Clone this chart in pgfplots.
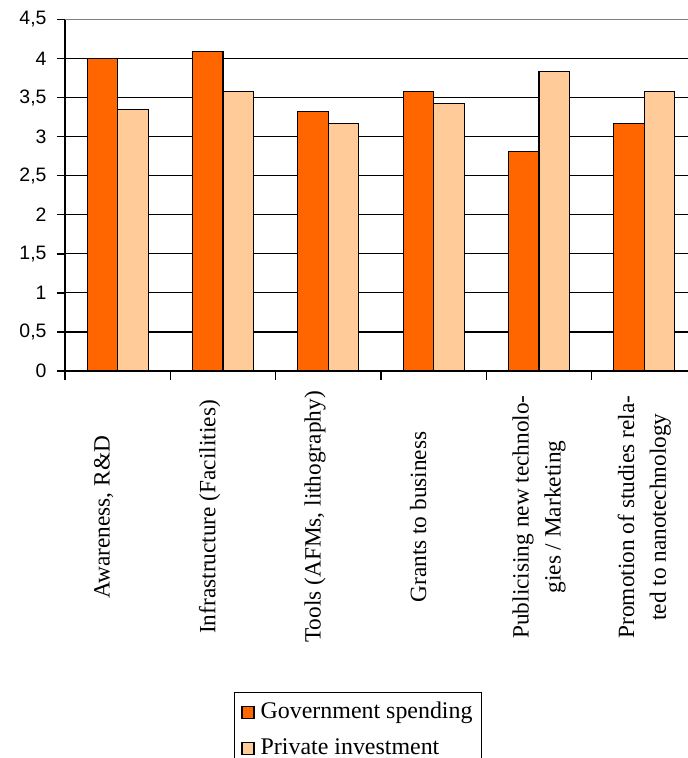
\documentclass[border=0pt]{standalone}
\usepackage{fontspec}
\setmainfont{Liberation Serif}
\setsansfont{Liberation Sans}
\usepackage{pgfplots}
\pgfplotsset{compat=1.18}
\definecolor{gov}{HTML}{FF6600}
\definecolor{priv}{HTML}{FFCC99}
\begin{document}
\begin{tikzpicture}[x=1bp,y=1bp]
\begin{axis}[
  at={(65bp,387bp)}, anchor=south west,
  scale only axis, width=632bp, height=351.5bp,
  xmin=-0.5, xmax=5.5, ymin=0, ymax=4.5,
  ybar=0pt, bar width=30.5bp,
  axis x line*=bottom, axis y line*=left,
  axis line style={black, line width=1.6bp},
  ytick={0,0.5,...,4.5},
  ymajorgrids, grid style={black, line width=1.2bp},
  xtick={0,...,5},
  xticklabels={{Awareness, R\&D\\[-10bp]\strut},{Infrastructure (Facilities)\\[-10bp]\strut},{Tools (AFMs, lithography)\\[-10bp]\strut},{Grants to business\\[-10bp]\strut},{Publicising new technolo-\\gies / Marketing},{Promotion of studies rela-\\ted to nanotechnology}},
  major x tick style={draw=none},
  minor xtick={-0.5,0.5,...,5.5},
  tick align=outside, major tick length=8bp, minor tick length=9bp,
  tick style={black, line width=1.4bp},
  xticklabel style={yshift=-138bp, rotate=90, anchor=center, align=center, font=\fontsize{23.4}{32}\selectfont},
  yticklabel style={xshift=-7bp, font=\sffamily\fontsize{19.5}{22}\selectfont},
  /pgf/number format/.cd, use comma, assume math mode=true,
  /pgfplots/.cd,
  legend style={at={(0.2674,-0.913)}, anchor=north west, draw=black, line width=1bp,
    font=\fontsize{24}{28}\selectfont, inner xsep=7bp, inner ysep=8bp, row sep=14bp, column sep=4bp},
  legend cell align=left,
  legend image code/.code={\draw[#1, draw=black, line width=1.2bp] (0bp,-7bp) rectangle (12bp,5bp);},
]
\addplot[fill=gov, draw=black, line width=1.2bp] coordinates {(0,4.0) (1,4.09) (2,3.32) (3,3.58) (4,2.81) (5,3.17)};
\addplot[fill=priv, draw=black, line width=1.2bp] coordinates {(0,3.35) (1,3.58) (2,3.17) (3,3.42) (4,3.83) (5,3.58)};
\legend{Government spending, Private investment}
\draw[gray, line width=2bp] (axis cs:-0.5,4.5) -- (axis cs:5.5,4.5);
\end{axis}
\pgfresetboundingbox
\useasboundingbox (0,0) rectangle (688,758);
\end{tikzpicture}
\end{document}
